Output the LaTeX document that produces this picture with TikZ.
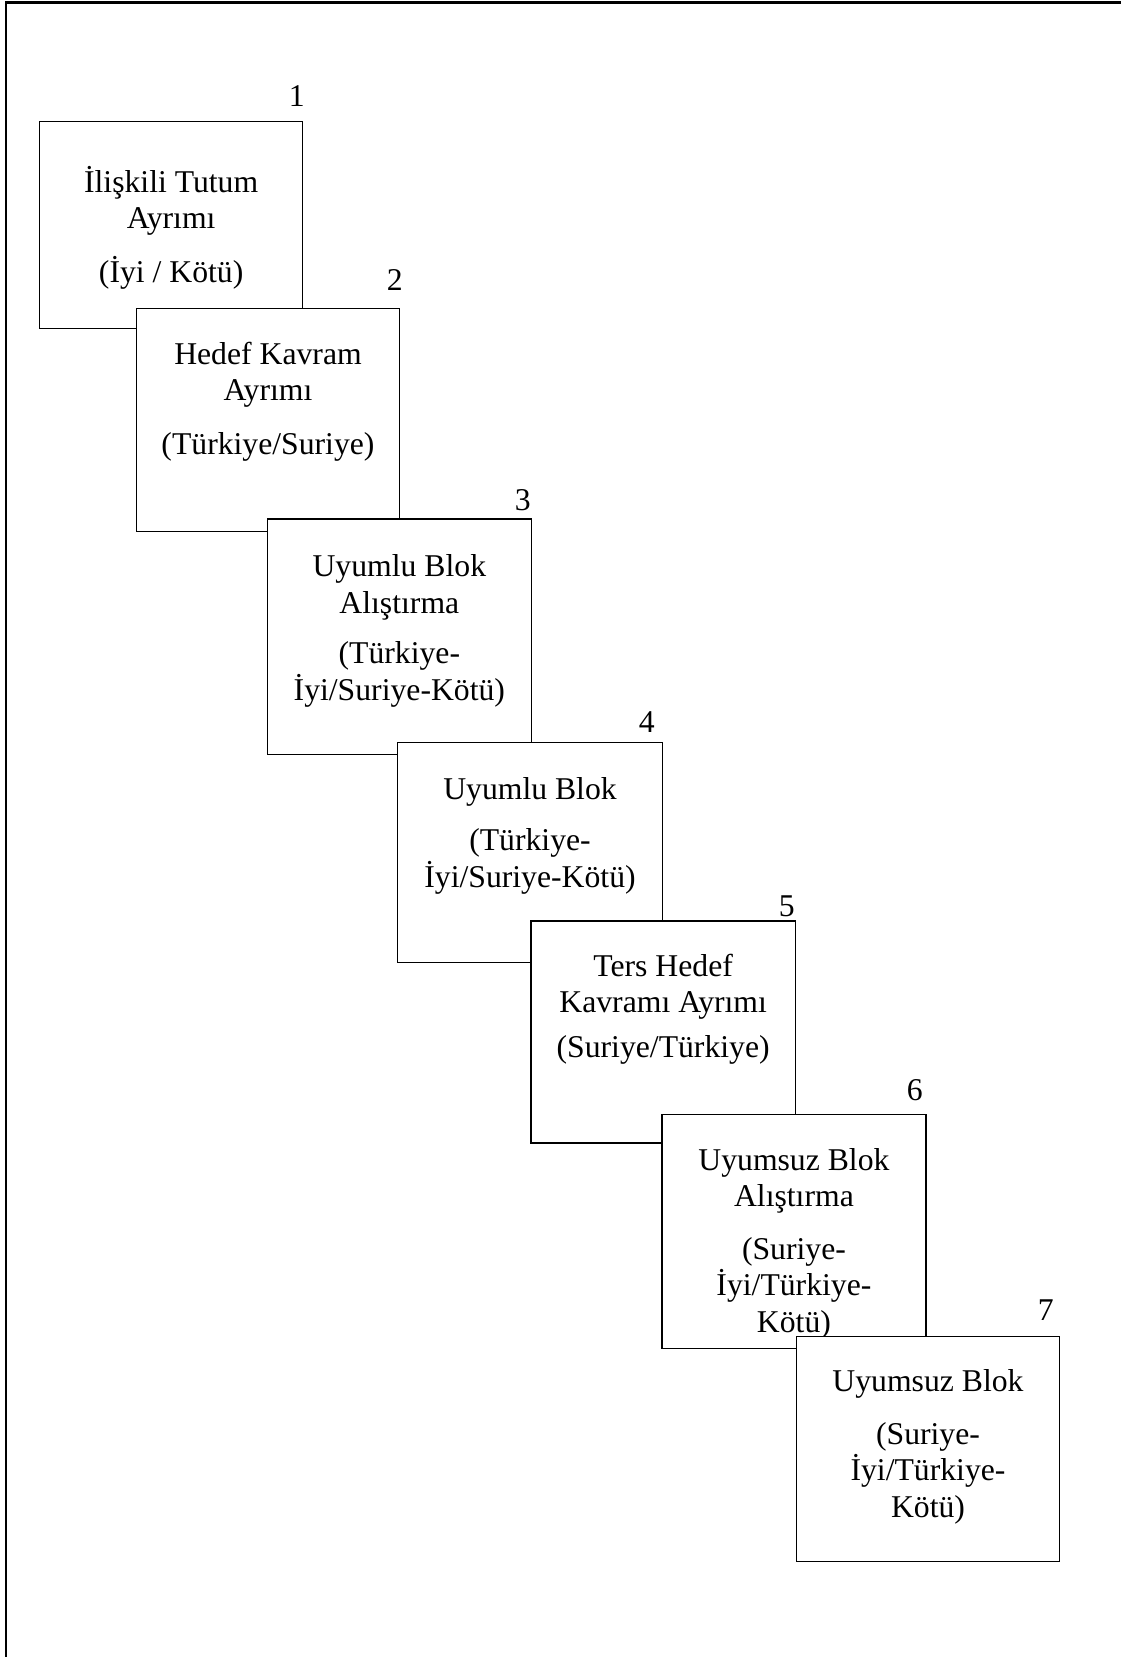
\documentclass[tikz,border=0pt]{standalone}
\usepackage{fontspec}
\setmainfont{Liberation Serif}
\begin{document}
\begin{tikzpicture}[x=1pt, y=-1pt,
  box/.style={draw, fill=white, line width=1.3pt, anchor=north west, inner sep=0pt},
  txt/.style={align=center, anchor=base, inner sep=0pt, font=\fontsize{31.7}{36.5}\selectfont},
  num/.style={anchor=base east, inner sep=0pt, font=\fontsize{31.7}{36.5}\selectfont}]
\useasboundingbox (0,0) rectangle (1121,1657);

% Frame
\draw[line width=2.4pt] (1121,2.5) -- (5.7,2.5) -- (5.7,1657);

% Block 1 (text placed by its last line)
\node[box, minimum width=263pt, minimum height=206.5pt] (b1) at (39,121) {};
\node[txt] (t1) at ([yshift=-161pt]b1.north) {İlişkili Tutum\\ Ayrımı\\[17pt] (İyi / Kötü)};
\node[num] (n1) at (305,106) {1};

% Block 2
\node[box, minimum width=263.3pt, minimum height=223.3pt] (b2) at (135.7,307.7) {};
\node[txt] (t2) at ([yshift=-146.3pt]b2.north) {Hedef Kavram\\ Ayrımı\\[17pt] (Türkiye/Suriye)};
\node[num] (n2) at (403,290) {2};

% Block 3
\node[box, minimum width=264pt, minimum height=235.7pt] (b3) at (266.7,518.3) {};
\node[txt] (t3) at ([yshift=-181.7pt]b3.north) {Uyumlu Blok\\ Alıştırma\\[14pt] (Türkiye-\\ İyi/Suriye-Kötü)};
\node[num] (n3) at (531,510) {3};

% Block 4
\node[box, minimum width=264.7pt, minimum height=220pt] (b4) at (397,742) {};
\node[txt] (t4) at ([yshift=-145pt]b4.north) {Uyumlu Blok\\[15pt] (Türkiye-\\ İyi/Suriye-Kötü)};
\node[num] (n4) at (655,732.7) {4};

% Block 5
\node[box, minimum width=264.4pt, minimum height=222pt] (b5) at (530.3,920.3) {};
\node[txt] (t5) at ([yshift=-136.7pt]b5.north) {Ters Hedef\\ Kavramı Ayrımı\\[8pt] (Suriye/Türkiye)};
\node[num] (n5) at (795,916) {5};

% Block 6
\node[box, minimum width=264pt, minimum height=233.7pt] (b6) at (661.3,1114) {};
\node[txt] (t6) at ([yshift=-218pt]b6.north) {Uyumsuz Blok\\ Alıştırma\\[16pt] (Suriye-\\ İyi/Türkiye-\\ Kötü)};
\node[num] (n6) at (923,1100) {6};

% Block 7
\node[box, minimum width=262.7pt, minimum height=225.3pt] (b7) at (796,1335.7) {};
\node[txt] (t7) at ([yshift=-181.3pt]b7.north) {Uyumsuz Blok\\[16pt] (Suriye-\\ İyi/Türkiye-\\ Kötü)};
\node[num] (n7) at (1054,1320.7) {7};
\end{tikzpicture}
\end{document}
